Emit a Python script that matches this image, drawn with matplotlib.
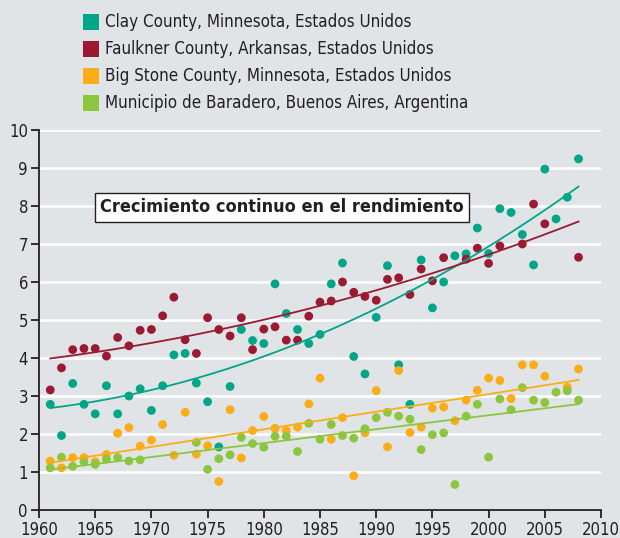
import numpy as np
import matplotlib
matplotlib.use('Agg')
import matplotlib.pyplot as plt
from matplotlib.patches import Rectangle

plt.rcParams['font.family'] = ['DejaVu Sans']
plt.rcParams['font.stretch'] = 'condensed'

years = np.arange(1961, 2009)

clay = [2.78, 1.96, 3.33, 2.78, 2.53, 3.27, 2.53, 3.00, 3.19, 2.62,
        3.27, 4.08, 4.12, 3.34, 2.85, 1.66, 3.25, 4.75, 4.46, 4.38,
        5.95, 5.17, 4.75, 4.38, 4.62, 5.95, 6.50, 4.04, 3.58, 5.07,
        6.43, 3.82, 2.78, 6.58, 5.32, 6.00, 6.69, 6.74, 7.42, 6.75,
        7.93, 7.83, 7.25, 6.45, 8.97, 7.66, 8.23, 9.24]

faulkner = [3.16, 3.74, 4.22, 4.25, 4.25, 4.05, 4.54, 4.32, 4.73, 4.75,
            5.11, 5.60, 4.48, 4.12, 5.06, 4.75, 4.58, 5.06, 4.22, 4.76,
            4.82, 4.47, 4.47, 5.10, 5.47, 5.50, 6.00, 5.73, 5.62, 5.52,
            6.07, 6.11, 5.67, 6.34, 6.03, 6.64, np.nan, 6.60, 6.89, 6.49,
            6.95, np.nan, 7.00, 8.05, 7.53, np.nan, np.nan, 6.65]

big_stone = [1.29, 1.11, 1.38, 1.38, 1.27, 1.46, 2.02, 2.17, 1.68, 1.84,
             2.25, 1.44, 2.57, 1.47, 1.69, 0.75, 2.64, 1.37, 2.09, 2.46,
             2.15, 2.09, 2.18, 2.79, 3.47, 1.86, 2.43, 0.90, 2.03, 3.14,
             1.66, 3.67, 2.04, 2.18, 2.68, 2.71, 2.35, 2.89, 3.15, 3.47,
             3.41, 2.93, 3.82, 3.82, 3.52, np.nan, 3.23, 3.71]

baradero = [1.11, 1.39, 1.15, 1.27, 1.20, 1.34, 1.38, 1.29, 1.32, np.nan,
            np.nan, np.nan, np.nan, 1.78, 1.07, 1.35, 1.45, 1.91, 1.75, 1.65,
            1.94, 1.94, 1.54, 2.28, 1.86, 2.25, 1.96, 1.89, 2.14, 2.43,
            2.57, 2.47, 2.39, 1.59, 1.98, 2.03, 0.67, 2.47, 2.78, 1.39,
            2.92, 2.64, 3.22, 2.89, 2.83, 3.10, 3.14, 2.89]

labels = ['Clay County, Minnesota, Estados Unidos',
          'Faulkner County, Arkansas, Estados Unidos',
          'Big Stone County, Minnesota, Estados Unidos',
          'Municipio de Baradero, Buenos Aires, Argentina']
colors = ['#00a687', '#9c1a31', '#fbad18', '#8cc63f']
series = [clay, faulkner, big_stone, baradero]
# degree of the trend fitted to each series
trend_deg = [2, 2, 1, 1]

bg = '#e1e4e7'
ink = '#231f20'
fig = plt.figure(figsize=(6.2, 5.38), dpi=100, facecolor=bg)
ax = fig.add_axes([39/620, 1 - 510/538, 562/620, 380/538], facecolor=bg)

for vals, col in zip(series, colors):
    vals = np.array(vals, dtype=float)
    ok = ~np.isnan(vals)
    ax.scatter(years[ok], vals[ok], s=40, color=col, edgecolors='none', zorder=3)

# fitted trend for each series, drawn over the dots
for vals, col, deg in zip(series, colors, trend_deg):
    vals = np.array(vals, dtype=float)
    ok = ~np.isnan(vals)
    coef = np.polyfit(years[ok], vals[ok], deg)
    xs = np.linspace(1961, 2008, 200)
    ax.plot(xs, np.polyval(coef, xs), color=col, lw=1.3, zorder=4)

ax.set_xlim(1960, 2010)
ax.set_ylim(0, 10)
ax.set_xticks(np.arange(1960, 2011, 5))
ax.set_yticks(np.arange(0, 11, 1))
ax.yaxis.grid(True, color='white', lw=1.8)
ax.set_axisbelow(True)
for side in ['top', 'right']:
    ax.spines[side].set_visible(False)
for side in ['left', 'bottom']:
    ax.spines[side].set_linewidth(1.3)
    ax.spines[side].set_color(ink)
ax.tick_params(direction='out', length=6, width=1.3, color=ink,
               labelsize=12, labelcolor=ink, pad=2)

ax.text(1965.45, 7.97, 'Crecimiento continuo en el rendimiento',
        fontsize=13, fontweight='bold', color=ink, va='center', ha='left',
        bbox=dict(boxstyle='square,pad=0.3', fc='white', ec=ink, lw=1.0),
        zorder=5)

# legend: coloured squares with labels above the plot
for i, (lab, col) in enumerate(zip(labels, colors)):
    yc = 1 - (22 + 27 * i) / 538
    fig.add_artist(Rectangle((83/620, yc - 8/538), 16/620, 16/538,
                             transform=fig.transFigure, fc=col, ec='none'))
    fig.text(105/620, yc, lab, fontsize=12.2, color=ink, va='center', ha='left')

fig.savefig('out.png', dpi=100, facecolor=bg)
